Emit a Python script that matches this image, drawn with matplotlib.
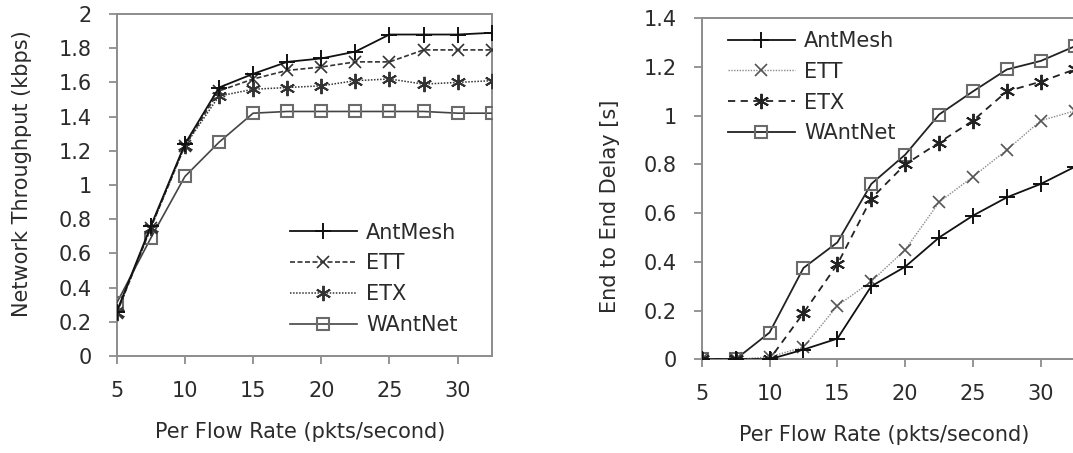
import matplotlib
matplotlib.use('Agg')
import matplotlib.pyplot as plt

# per flow rate (pkts/second)
taxa = [5, 7.5, 10, 12.5, 15, 17.5, 20, 22.5, 25, 27.5, 30, 32.5]

# network throughput (kbps)
vazao_antmesh = [0.26, 0.76, 1.24, 1.57, 1.65, 1.72, 1.74, 1.78, 1.88, 1.88, 1.88, 1.89]
vazao_ett = [0.25, 0.75, 1.23, 1.55, 1.62, 1.67, 1.69, 1.72, 1.72, 1.79, 1.79, 1.79]
vazao_etx = [0.25, 0.75, 1.23, 1.52, 1.56, 1.57, 1.58, 1.61, 1.62, 1.59, 1.60, 1.61]
vazao_wantnet = [0.31, 0.69, 1.05, 1.25, 1.42, 1.43, 1.43, 1.43, 1.43, 1.43, 1.42, 1.42]

# end to end delay (s)
atraso_antmesh = [0.0, 0.0, 0.0, 0.04, 0.085, 0.30, 0.38, 0.50, 0.59, 0.665, 0.72, 0.79]
atraso_ett = [0.0, 0.0, 0.01, 0.05, 0.22, 0.32, 0.45, 0.645, 0.75, 0.86, 0.98, 1.02]
atraso_etx = [0.0, 0.0, 0.0, 0.19, 0.39, 0.66, 0.80, 0.89, 0.98, 1.10, 1.14, 1.19]
atraso_wantnet = [0.0, 0.0, 0.11, 0.375, 0.48, 0.72, 0.84, 1.005, 1.10, 1.19, 1.225, 1.285]

ROTULOS = ['AntMesh', 'ETT', 'ETX', 'WAntNet']
ESPINHA = '#8c8c8c'
TEXTO = '#2b2b2b'

plt.rcParams['font.family'] = ['DejaVu Sans']
plt.rcParams['font.size'] = 15

fig = plt.figure(figsize=(10.73, 4.53), dpi=100)
ax1 = fig.add_axes([0.1088, 0.2141, 0.3495, 0.7550])
ax2 = fig.add_axes([0.6540, 0.2068, 0.3476, 0.7528])


def _estilo(ax, ylim, yticks, ylabel, lab_x, lab_y):
    for s in ax.spines.values():
        s.set_color(ESPINHA)
        s.set_linewidth(1.4)
    ax.set_xlim(5, 32.5)
    ax.set_ylim(*ylim)
    ax.set_xticks([5, 10, 15, 20, 25, 30])
    ax.set_yticks(yticks)
    ax.set_yticklabels(['%g' % t for t in yticks])
    ax.tick_params(axis='both', direction='out', length=6, width=1.3,
                   color=ESPINHA, labelcolor=TEXTO, labelsize=15, pad=12)
    ax.set_xlabel('Per Flow Rate (pkts/second)', color=TEXTO, fontsize=15, va='center')
    ax.set_ylabel(ylabel, color=TEXTO, fontsize=15, va='center')
    ax.xaxis.set_label_coords(0.49, -0.222)
    ax.yaxis.set_label_coords(lab_x, lab_y)


# painel esquerdo: vazao
ax1.plot(taxa, vazao_antmesh, color='#111111', lw=1.3, marker='+', ms=11, mew=1.4,
         label=ROTULOS[0], zorder=5)
ax1.plot(taxa, vazao_ett, color='#333333', lw=1.2, ls=(0, (3, 1.5)), marker='x', ms=9, mew=1.2,
         label=ROTULOS[1], zorder=4)
ax1.plot(taxa, vazao_etx, color='#333333', lw=1.1, ls=(0, (1, 1)), marker=(6, 2, 0), ms=11, mew=1.4,
         label=ROTULOS[2], zorder=4)
ax1.plot(taxa, vazao_wantnet, color='#444444', lw=1.2, marker='s', ms=9, mew=1.5,
         mfc='none', mec='#6b6b6b', label=ROTULOS[3], zorder=3)
_estilo(ax1, (0, 2), [0, 0.2, 0.4, 0.6, 0.8, 1, 1.2, 1.4, 1.6, 1.8, 2],
        'Network Throughput (kbps)', -0.2525, 0.532)
ax1.legend(loc='upper left', bbox_to_anchor=(0.462, 0.39), frameon=False, borderpad=0,
           borderaxespad=0, handlelength=3.2, labelspacing=0.52, handletextpad=0.45,
           labelcolor=TEXTO)

# painel direito: atraso
ax2.plot(taxa, atraso_antmesh, color='#111111', lw=1.3, marker='+', ms=11, mew=1.4,
         label=ROTULOS[0], zorder=5)
ax2.plot(taxa, atraso_ett, color='#8a8a8a', lw=1.0, ls=(0, (1, 1)), marker='x', ms=9, mew=1.2,
         mec='#555555', label=ROTULOS[1], zorder=4)
ax2.plot(taxa, atraso_etx, color='#222222', lw=1.3, ls=(0, (4, 3)), marker=(6, 2, 0), ms=11, mew=1.4,
         label=ROTULOS[2], zorder=4)
ax2.plot(taxa, atraso_wantnet, color='#222222', lw=1.3, marker='s', ms=9, mew=1.5,
         mfc='none', mec='#6b6b6b', label=ROTULOS[3], zorder=3)
_estilo(ax2, (0, 1.4), [0, 0.2, 0.4, 0.6, 0.8, 1, 1.2, 1.4],
        'End to End Delay [s]', -0.2458, 0.45)
ax2.legend(loc='upper left', bbox_to_anchor=(0.0705, 0.963), frameon=False, borderpad=0,
           borderaxespad=0, handlelength=3.2, labelspacing=0.52, handletextpad=0.45,
           labelcolor=TEXTO)

fig.savefig('out.png', dpi=100)
